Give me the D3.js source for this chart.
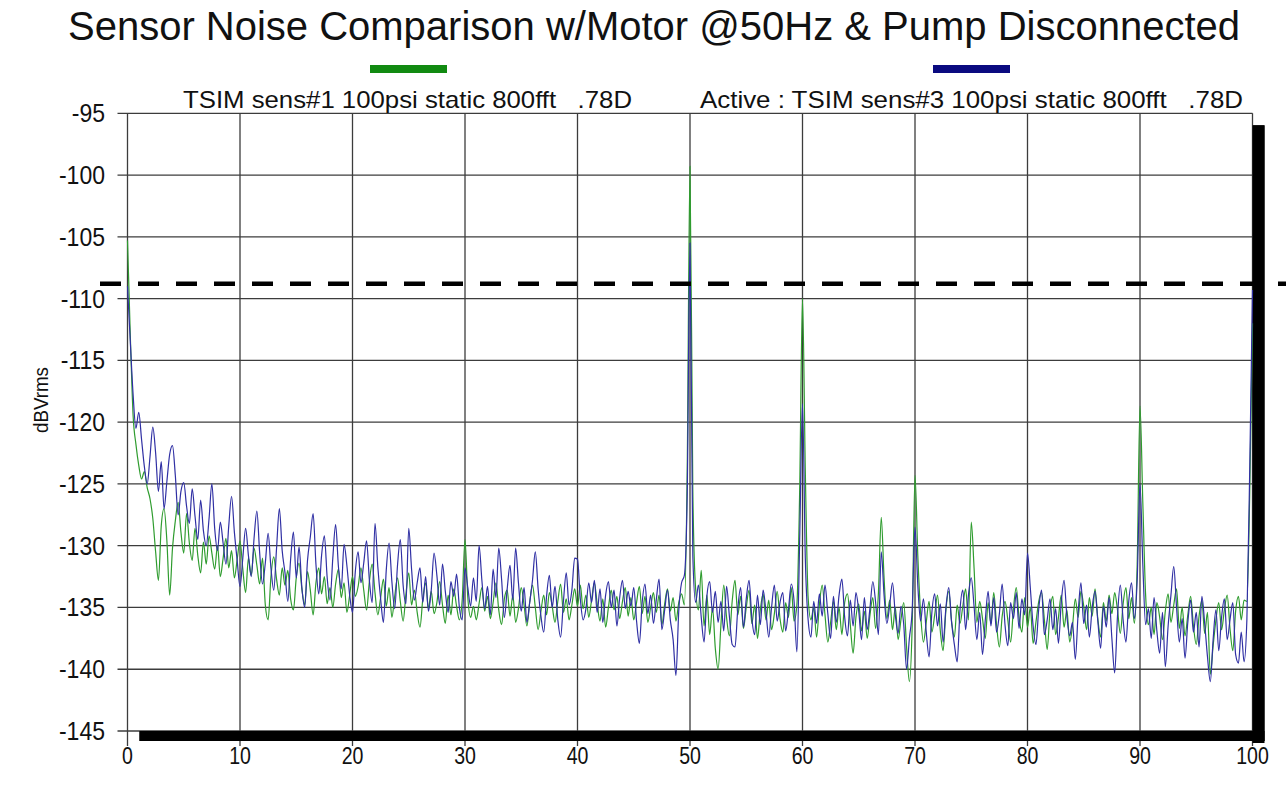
<!DOCTYPE html>
<html>
<head>
<meta charset="utf-8">
<script src="https://cdn.jsdelivr.net/npm/d3@7"></script>
<style>
  html,body{margin:0;padding:0;background:#fff;}
  svg{display:block;font-family:"Liberation Sans",Arial,sans-serif;}
</style>
</head>
<body>
<svg id="chart" width="1286" height="787"></svg>
<script>
// spectrum bins, 0.25 Hz apart, 0..100 Hz
const binStep = 0.25;
const sens1 = [
  -105.3,-113.0,-119.5,-121.8, -123.5,-124.6,-124.0,-125.3, -126.2,-127.8,-130.5,-132.8, -128.4,-127.0,-129.6,-134.0,
  -130.2,-128.0,-126.5,-128.9, -130.6,-127.4,-129.8,-131.2, -128.6,-130.8,-132.2,-129.7, -131.5,-129.2,-130.6,-131.9,
  -130.0,-132.5,-131.0,-129.4, -131.8,-130.4,-132.6,-131.1, -129.6,-131.9,-133.8,-131.0, -132.4,-130.2,-131.6,-133.1,
  -131.0,-134.8,-136.0,-132.5, -130.9,-132.7,-134.0,-131.8, -133.2,-132.0,-134.3,-135.2, -132.6,-131.4,-133.5,-134.8,
  -132.1,-133.6,-135.6,-133.0, -131.8,-133.9,-132.5,-134.7, -133.4,-135.0,-133.1,-131.9, -134.2,-133.0,-135.4,-134.0,
  -132.5,-134.1,-133.3,-131.8, -133.6,-135.2,-132.9,-131.5, -133.8,-135.6,-134.2,-132.7, -134.9,-133.4,-135.8,-134.1,
  -132.6,-134.5,-136.1,-133.9, -132.2,-134.8,-133.6,-135.4, -136.6,-134.3,-133.0,-135.1, -133.7,-135.5,-134.6,-132.9,
  -134.8,-136.3,-134.0,-135.6, -133.5,-134.9,-136.0,-134.4, -129.5,-134.2,-135.8,-134.9, -136.0,-134.7,-133.4,-135.3,
  -134.1,-135.9,-134.6,-133.0, -135.2,-136.4,-134.3,-133.6, -135.7,-134.0,-136.2,-135.1, -133.4,-134.8,-136.5,-134.6,
  -133.2,-135.0,-136.8,-135.3, -134.0,-135.6,-133.8,-134.9, -136.2,-134.5,-133.1,-135.4, -134.3,-136.0,-134.8,-133.5,
  -134.9,-133.2,-135.1,-134.0, -135.8,-134.4,-133.0,-134.7, -136.1,-134.3,-136.6,-135.0, -133.6,-135.2,-134.1,-135.9,
  -134.5,-133.4,-135.7,-134.2, -136.0,-134.6,-133.3,-135.5, -134.1,-136.2,-135.0,-133.8, -135.4,-134.0,-136.4,-134.7,
  -133.5,-135.3,-134.2,-136.1, -134.6,-133.9,-134.8,-124.0, -99.3,-125.5,-133.5,-135.2, -132.0,-136.5,-134.0,-137.2,
  -135.0,-138.3,-140.0,-136.4, -133.2,-135.8,-137.3,-134.5, -132.8,-135.6,-134.1,-136.7, -135.0,-133.6,-136.3,-134.8,
  -137.5,-135.2,-133.9,-136.0, -134.4,-136.8,-135.5,-133.7, -135.9,-137.0,-134.6,-135.8, -133.4,-136.1,-134.8,-125.5,
  -110.0,-124.0,-134.2,-136.0, -135.0,-137.4,-134.8,-133.2, -135.6,-137.8,-136.2,-134.5, -136.8,-135.0,-137.2,-134.6,
  -133.9,-136.4,-138.7,-135.8, -134.7,-136.9,-135.3,-137.5, -135.6,-134.2,-136.7,-133.8, -127.7,-132.6,-135.9,-134.4,
  -136.8,-135.0,-137.6,-136.0, -134.6,-138.2,-141.0,-136.5, -124.3,-130.8,-135.5,-137.8, -136.2,-134.5,-137.0,-135.6,
  -134.0,-136.9,-138.5,-135.2, -133.7,-136.1,-137.4,-134.8, -136.3,-134.9,-133.5,-136.0, -128.1,-131.8,-136.2,-134.5,
  -135.9,-137.5,-134.6,-136.3, -133.8,-136.4,-138.2,-135.7, -134.5,-136.0,-137.8,-135.1, -133.4,-135.8,-137.0,-134.2,
  -136.6,-135.0,-137.9,-136.2, -134.5,-133.8,-136.0,-138.4, -135.3,-134.1,-137.2,-135.8, -134.0,-136.6,-135.2,-137.8,
  -136.5,-134.3,-135.8,-133.7, -134.9,-136.8,-134.2,-135.7, -133.5,-135.9,-137.4,-134.6, -136.1,-134.0,-135.5,-133.8,
  -135.2,-137.1,-134.7,-133.4, -135.9,-134.2,-136.3,-131.5, -118.7,-126.5,-134.0,-136.4, -135.0,-137.2,-134.6,-135.8,
  -137.6,-135.3,-133.9,-136.2, -134.8,-133.5,-136.7,-135.0, -137.3,-135.6,-134.1,-136.5, -138.0,-135.7,-134.4,-137.1,
  -135.4,-140.4,-138.1,-136.0, -134.6,-136.8,-135.2,-134.0, -136.7,-138.5,-135.3,-134.1, -136.0,-134.4,-134.5,-126.0,
  -112.0
];
const sens3 = [
  -109.0,-113.5,-117.8,-120.5, -119.2,-121.4,-123.6,-125.0, -122.8,-120.4,-122.5,-125.6, -123.2,-127.0,-124.8,-122.6,
  -121.9,-124.3,-127.5,-125.6, -124.9,-126.8,-128.2,-125.4, -127.6,-129.5,-126.3,-128.8, -130.0,-127.8,-125.0,-128.6,
  -130.4,-128.1,-129.8,-131.5, -128.4,-126.0,-128.9,-131.2, -133.3,-131.0,-128.6,-130.8, -132.5,-129.4,-127.2,-130.6,
  -133.1,-131.4,-129.0,-131.8, -133.6,-130.2,-127.0,-130.4, -132.2,-134.5,-131.1,-128.9, -132.6,-130.1,-133.4,-135.0,
  -131.2,-129.3,-127.4,-131.5, -133.9,-130.8,-129.2,-132.6, -134.4,-131.0,-128.3,-131.7, -133.5,-129.9,-131.6,-134.0,
  -135.4,-132.1,-130.5,-133.0, -131.4,-129.6,-132.8,-134.6, -128.2,-131.7,-134.3,-136.2, -132.0,-129.8,-132.9,-135.1,
  -131.6,-129.5,-133.2,-134.7, -128.6,-131.9,-134.4,-133.0, -131.8,-134.6,-132.5,-135.3, -133.6,-130.6,-132.4,-134.8,
  -131.5,-133.7,-135.4,-132.9, -134.1,-132.3,-135.0,-136.0, -131.8,-133.4,-134.9,-132.6, -134.5,-130.0,-132.8,-135.1,
  -133.3,-135.6,-131.9,-134.2, -130.2,-132.7,-135.8,-133.5, -131.6,-134.4,-130.2,-133.0, -135.3,-133.4,-136.2,-134.6,
  -132.8,-130.5,-133.5,-135.7, -137.0,-134.1,-132.4,-135.0, -133.3,-136.0,-137.4,-134.5, -132.2,-134.8,-133.6,-131.0,
  -131.1,-134.3,-136.0,-135.1, -133.0,-134.6,-132.8,-135.4, -133.5,-136.2,-134.0,-132.9, -135.0,-133.6,-136.5,-134.2,
  -132.8,-135.1,-133.7,-134.9, -133.4,-136.1,-137.9,-134.6, -133.1,-135.5,-134.0,-136.3, -134.4,-132.7,-136.8,-135.2,
  -133.6,-136.0,-137.6,-140.5, -135.3,-133.0,-132.4,-126.0, -105.5,-130.8,-134.6,-133.2, -135.8,-137.8,-134.1,-132.9,
  -135.4,-133.7,-136.2,-134.5, -136.9,-133.3,-135.7,-138.0, -138.2,-135.1,-133.4,-136.6, -134.3,-132.8,-135.9,-137.2,
  -134.0,-136.4,-133.6,-135.3, -137.4,-135.0,-133.2,-136.1, -134.6,-133.8,-136.9,-135.2, -133.1,-134.5,-138.6,-129.5,
  -118.5,-131.0,-136.0,-137.4, -134.5,-136.3,-133.9,-135.7, -133.2,-135.5,-137.5,-134.1, -136.2,-134.0,-132.7,-135.8,
  -137.3,-134.4,-136.5,-133.8, -135.3,-137.6,-134.2,-136.8, -135.0,-132.9,-134.6,-137.2, -130.5,-134.0,-136.3,-134.8,
  -133.0,-135.6,-137.1,-134.9, -136.4,-140.0,-137.5,-135.2, -128.5,-133.2,-136.1,-134.3, -137.0,-139.0,-135.4,-133.9,
  -136.5,-134.7,-137.8,-135.0, -133.4,-136.2,-138.0,-139.4, -135.2,-133.6,-136.8,-134.0, -132.6,-134.9,-137.6,-135.4,
  -138.8,-136.0,-133.7,-136.5, -134.2,-137.0,-135.5,-133.1, -136.4,-138.1,-134.6,-135.9, -133.8,-136.7,-134.3,-135.6,
  -130.6,-133.4,-136.5,-138.0, -135.1,-133.6,-137.2,-136.0, -134.3,-136.8,-135.1,-137.9, -134.6,-132.8,-135.7,-137.3,
  -136.2,-139.2,-135.5,-133.0, -136.3,-134.8,-137.4,-135.0, -133.7,-136.1,-138.3,-134.9, -136.6,-134.2,-137.5,-140.3,
  -135.7,-133.2,-136.0,-137.8, -134.5,-133.0,-135.9,-132.8, -125.0,-131.5,-136.4,-135.1, -137.5,-134.2,-136.9,-138.7,
  -135.4,-139.8,-136.5,-134.0, -131.7,-135.0,-137.8,-135.9, -139.1,-136.2,-134.4,-137.0, -135.4,-138.2,-134.1,-136.3,
  -139.0,-141.0,-137.6,-135.2, -138.5,-135.8,-134.3,-137.6, -136.0,-134.6,-138.8,-139.5, -137.0,-139.4,-136.0,-124.0,
  -109.3
];
const xTicks = [0,10,20,30,40,50,60,70,80,90,100];
const yTicks = [-95,-100,-105,-110,-115,-120,-125,-130,-135,-140,-145];
const threshold = -108.8;
const titleText = "Sensor Noise Comparison w/Motor @50Hz & Pump Disconnected";
const legendNames = ["TSIM sens#1 100psi static 800fft   .78D", "Active : TSIM sens#3 100psi static 800fft   .78D"];

const green = "#2f9c2f", blue = "#3030a4", grid = "#3c3c3c";
const svg = d3.select("#chart");
const x = d3.scaleLinear().domain([0,100]).range([127.5,1252.5]);
const y = d3.scaleLinear().domain([-145,-95]).range([731,113.3]);
const shadow = 12;

// drop shadow of the plot frame
svg.append("rect")
  .attr("x",x(0)+shadow).attr("y",y(-95)+shadow)
  .attr("width",x(100)-x(0)).attr("height",y(-145)-y(-95)-2)
  .attr("fill","#000");
svg.append("rect")
  .attr("x",x(0)).attr("y",y(-95))
  .attr("width",x(100)-x(0)).attr("height",y(-145)-y(-95))
  .attr("fill","#fff");

// horizontal grid with tick stubs
svg.append("g").selectAll("line").data(yTicks).join("line")
  .attr("x1",x(0)-10).attr("x2",x(100))
  .attr("y1",d=>y(d)).attr("y2",d=>y(d))
  .attr("stroke",grid).attr("stroke-width",1.3);
// vertical grid
svg.append("g").selectAll("line").data(xTicks).join("line")
  .attr("x1",d=>x(d)).attr("x2",d=>x(d))
  .attr("y1",y(-95)).attr("y2",y(-145)+15)
  .attr("stroke",grid).attr("stroke-width",1.3);

// bottom shadow strip drawn over the tick stubs
svg.append("rect")
  .attr("x",x(0)+shadow).attr("y",y(-145))
  .attr("width",x(100)-x(0)).attr("height",shadow-2)
  .attr("fill","#000");
svg.append("rect")
  .attr("x",x(100)).attr("y",y(-95)+shadow)
  .attr("width",shadow).attr("height",y(-145)-y(-95))
  .attr("fill","#000");

// tick labels (narrow, tall glyphs as in the original export)
svg.append("g").selectAll("text").data(yTicks).join("text")
  .attr("transform",d=>`translate(105,${y(d)+9}) scale(0.92,1)`)
  .attr("text-anchor","end").attr("font-size",25).attr("fill","#111")
  .text(d=>d);
svg.append("g").selectAll("text").data(xTicks).join("text")
  .attr("transform",d=>`translate(${x(d)},764) scale(0.85,1)`)
  .attr("text-anchor","middle").attr("font-size",23).attr("fill","#111")
  .text(d=>d);

// traces
const line = d3.line().x((d,i)=>x(i*binStep)).y(d=>y(d)).curve(d3.curveMonotoneX);
svg.append("path").datum(sens1).attr("d",line)
  .attr("fill","none").attr("stroke",green).attr("stroke-width",1.2);
svg.append("path").datum(sens3).attr("d",line)
  .attr("fill","none").attr("stroke",blue).attr("stroke-width",1.2);

// threshold
svg.append("line")
  .attr("x1",100).attr("x2",1286)
  .attr("y1",y(threshold)).attr("y2",y(threshold))
  .attr("stroke","#000").attr("stroke-width",4.5)
  .attr("stroke-dasharray","21 17");

// title
svg.append("text")
  .attr("x",68).attr("y",40)
  .attr("font-size",40).attr("fill","#111")
  .attr("textLength",1172).attr("lengthAdjust","spacingAndGlyphs")
  .text(titleText);

// legend
const legend = [
  {name:legendNames[0],color:"#118a11",sx:370,tx:183,tw:449},
  {name:legendNames[1],color:"#0a0a80",sx:933,tx:700,tw:543}
];
const lg = svg.append("g").selectAll("g").data(legend).join("g");
lg.append("rect").attr("x",d=>d.sx).attr("y",65).attr("width",77).attr("height",8).attr("fill",d=>d.color);
lg.append("text").attr("x",d=>d.tx).attr("y",108)
  .attr("font-size",24).attr("fill","#111")
  .style("white-space","pre")
  .attr("textLength",d=>d.tw).attr("lengthAdjust","spacingAndGlyphs")
  .text(d=>d.name);

// y axis title
svg.append("text")
  .attr("transform","translate(48,400) rotate(-90)")
  .attr("text-anchor","middle").attr("font-size",21).attr("fill","#111")
  .attr("textLength",66).attr("lengthAdjust","spacingAndGlyphs")
  .text("dBVrms");
</script>
</body>
</html>
